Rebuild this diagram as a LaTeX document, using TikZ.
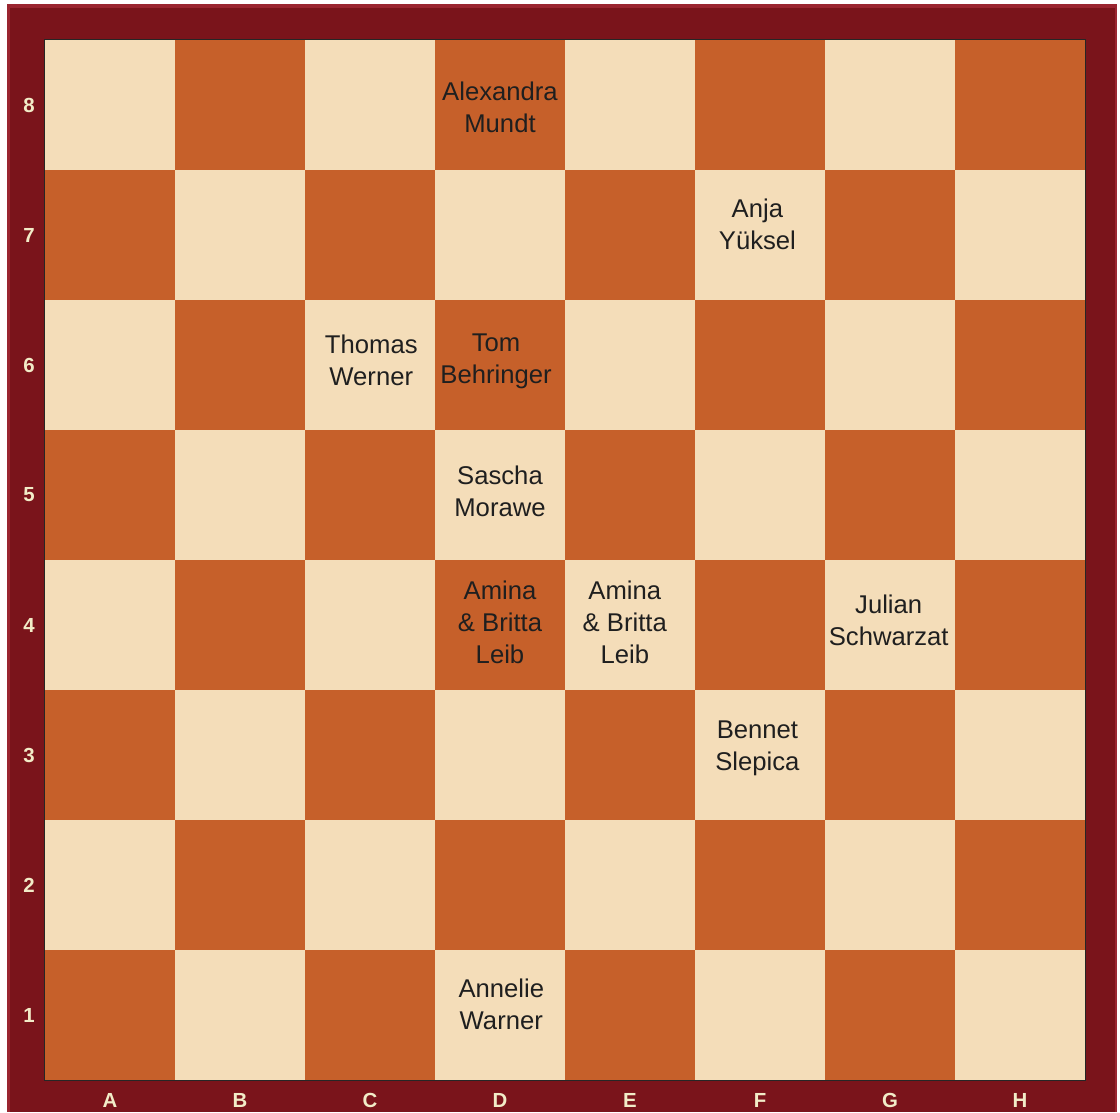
\documentclass[tikz,border=0pt]{standalone}
\usepackage{fontspec}
\setmainfont{Liberation Sans}
\usepackage{xcolor}
\usepackage{tikz}
\definecolor{frame}{HTML}{7A141B}
\definecolor{frameedge}{HTML}{9A2530}
\definecolor{lightsq}{HTML}{F4DDB9}
\definecolor{darksq}{HTML}{C6602A}
\definecolor{coordtxt}{HTML}{F2ECC8}

\begin{document}
\begin{tikzpicture}[x=1.3cm,y=1.3cm,
  player/.style={align=center,inner sep=0pt,text=black!88,font=\fontsize{7.3}{9.1}\selectfont},
  boardlbl/.style={inner sep=0pt,text=coordtxt,font=\fontsize{5.8}{6}\selectfont\bfseries}]
  \useasboundingbox (-0.346,-0.246) rectangle (8.269,8.308);
  % wooden frame
  \fill[frameedge] (-0.292,-0.246) rectangle (8.246,8.277);
  \fill[frame] (-0.27,-0.246) rectangle (8.23,8.25);
  \draw[black!85,line width=0.6pt] (0,0) rectangle (8,8);
  % squares, A1 dark
  \foreach \c in {0,...,7}{
    \foreach \r in {0,...,7}{
      \pgfmathtruncatemacro\odd{mod(\c+\r,2)}
      \ifnum\odd=0 \def\sq{darksq}\else\def\sq{lightsq}\fi
      \fill[\sq] (\c,\r) rectangle ++(1,1);
    }
  }
  % files and ranks
  \foreach \l [count=\i from 0] in {A,B,C,D,E,F,G,H}
    \node[boardlbl] (file\l) at (\i+0.5,-0.16) {\l};
  \foreach \r in {1,...,8}
    \node[boardlbl] (rank\r) at (-0.123,\r-0.5) {\r};
  % who stands where
  \foreach \x/\y/\nm/\who in {
      3.5/7.48/dEight/{Alexandra\\Mundt},
      5.48/6.58/fSeven/{Anja\\Yüksel},
      2.51/5.54/cSix/{Thomas\\Werner},
      3.47/5.53/dSix/{Tom\\Behringer},
      3.5/4.53/dFive/{Sascha\\Morawe},
      3.5/3.52/dFour/{Amina\\\& Britta\\Leib},
      4.46/3.52/eFour/{Amina\\\& Britta\\Leib},
      6.49/3.54/gFour/{Julian\\Schwarzat},
      5.48/2.55/fThree/{Bennet\\Slepica},
      3.51/0.58/dOne/{Annelie\\Warner}}
    \node[player] (\nm) at (\x,\y) {\who};
\end{tikzpicture}
\end{document}
